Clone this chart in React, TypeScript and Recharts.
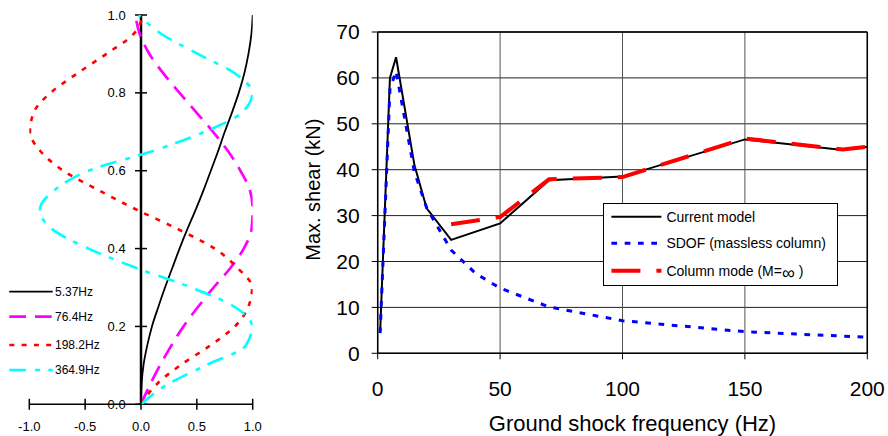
import React from 'react';
import {
  ScatterChart,
  Scatter,
  XAxis,
  YAxis,
  CartesianGrid,
  ReferenceLine,
  ReferenceDot,
  Legend,
  Label,
} from 'recharts';

const FONT = '"Liberation Sans", Arial, Helvetica, sans-serif';

// ---------- Left panel: normalised mode shapes ----------
const heights = [0, 0.05, 0.1, 0.15, 0.2, 0.25, 0.3, 0.35, 0.4, 0.45, 0.5, 0.55, 0.6, 0.65, 0.7, 0.75, 0.8, 0.85, 0.9, 0.95, 1.0];
const mode1 = [0, 0.005, 0.022, 0.055, 0.098, 0.155, 0.215, 0.28, 0.345, 0.415, 0.49, 0.56, 0.625, 0.69, 0.75, 0.815, 0.875, 0.925, 0.962, 0.988, 1.0];
const mode2 = [0, 0.08, 0.17, 0.27, 0.38, 0.51, 0.65, 0.8, 0.92, 0.99, 1.0, 0.975, 0.89, 0.78, 0.645, 0.495, 0.345, 0.2, 0.075, -0.01, -0.05];
const mode3 = [0, 0.135, 0.35, 0.615, 0.84, 0.96, 0.995, 0.865, 0.66, 0.33, -0.04, -0.38, -0.695, -0.9, -0.994, -0.96, -0.81, -0.57, -0.31, -0.07, 0.02];
const mode4 = [0, 0.23, 0.58, 0.935, 0.995, 0.84, 0.45, -0.04, -0.47, -0.795, -0.905, -0.775, -0.47, 0.1, 0.57, 0.905, 0.997, 0.84, 0.51, 0.19, -0.02];
const modeNames = ['5.37Hz', '76.4Hz', '198.2Hz', '364.9Hz'];
const modeXTicks = [-1, -0.5, 0, 0.5, 1];
const modeYTicks = [0, 0.2, 0.4, 0.6, 0.8, 1.0];

// ---------- Right panel: max shear vs frequency ----------
const currentFreq = [1, 5, 7.5, 15, 20, 30, 50, 70, 100, 150, 190, 200];
const currentShear = [4.7, 60, 64.5, 41, 31.6, 24.7, 28.3, 37.7, 38.5, 46.6, 44.3, 45];
const sdofFreq = [1, 5, 7.5, 15, 20, 30, 40, 50, 70, 100, 150, 200];
const sdofShear = [4.4, 57.5, 61.5, 39.5, 31.7, 22.5, 17.4, 14.2, 10.1, 7.1, 4.7, 3.5];
const columnFreq = [30, 50, 70, 100, 150, 190, 200];
const columnShear = [28.1, 29.7, 37.9, 38.4, 46.8, 44.4, 45];
const shearNames = ['Current model', 'SDOF (massless column)', 'Column mode (M='];
const freqTicks = [0, 50, 100, 150, 200];
const shearTicks = [0, 10, 20, 30, 40, 50, 60, 70];

// ---------- styles ----------
const modeStyles = [
  { stroke: '#000000', strokeWidth: 1.8, strokeDasharray: undefined },
  { stroke: '#FF00FF', strokeWidth: 2.7, strokeDasharray: '16.7 9' },
  { stroke: '#FF0000', strokeWidth: 2.6, strokeDasharray: '5 7.3' },
  { stroke: '#00FFFF', strokeWidth: 2.6, strokeDasharray: '16.7 9 5 8.3' },
];
const shearStyles = [
  { stroke: '#000000', strokeWidth: 2, strokeDasharray: undefined },
  { stroke: '#0000FF', strokeWidth: 3, strokeDasharray: '5.7 7.6' },
  { stroke: '#FF0000', strokeWidth: 4, strokeDasharray: '29 16' },
];

const modeData = [mode1, mode2, mode3, mode4].map((xs) => xs.map((x, i) => ({ x, y: heights[i] })));
const toPoints = (fs: number[], vs: number[]) => fs.map((f, i) => ({ x: f, y: vs[i] }));
const shearData = [
  toPoints(currentFreq, currentShear),
  toPoints(sdofFreq, sdofShear),
  toPoints(columnFreq, columnShear),
];

const Empty = () => <g />;

const LeftXTick = (props: any) => {
  const { x, y, payload } = props;
  return (
    <g>
      <line x1={x} x2={x} y1={y - 5.5} y2={y + 5.5} stroke="#000" strokeWidth={1.5} />
      <text x={x} y={y + 27} textAnchor="middle" fontSize={13} fontFamily={FONT} fill="#000">
        {Number(payload.value).toFixed(1)}
      </text>
    </g>
  );
};

const YTickMark = ({ cx, cy, value }: any) => (
  <g>
    <line x1={cx - 6} x2={cx + 6} y1={cy} y2={cy} stroke="#000" strokeWidth={1.5} />
    <text x={cx - 15.3} y={cy + 4.6} textAnchor="end" fontSize={13} fontFamily={FONT} fill="#000">
      {value.toFixed(1)}
    </text>
  </g>
);

const modeLegendRows = [11.7, 36.7, 65, 90];
const ModeLegend = () => (
  <svg width={140} height={100} style={{ display: 'block' }}>
    {modeNames.map((name, i) => {
      const cy = modeLegendRows[i];
      const s = modeStyles[i];
      return (
        <g key={name}>
          <line x1={9.3} x2={52.7} y1={cy} y2={cy} stroke={s.stroke} strokeWidth={s.strokeWidth} strokeDasharray={s.strokeDasharray} />
          <text x={55} y={cy + 4.3} fontSize={12} fontFamily={FONT} fill="#000">{name}</text>
        </g>
      );
    })}
  </svg>
);

const shearLegendRows = [13.7, 40.3, 67.7];
const ShearLegend = () => (
  <svg width={236} height={84} style={{ display: 'block' }}>
    <rect x={0.5} y={0.5} width={234} height={82} fill="#fff" stroke="#000" strokeWidth={1} />
    {shearNames.map((name, i) => {
      const cy = shearLegendRows[i];
      const s = shearStyles[i];
      return (
        <g key={name}>
          <line x1={8.4} x2={58.4} y1={cy} y2={cy} stroke={s.stroke} strokeWidth={s.strokeWidth} strokeDasharray={s.strokeDasharray} />
          <text x={63.4} y={cy + 5} fontSize={14} fontFamily={FONT} fill="#000">
            {name}
            {i === 2 ? (
              <>
                <tspan fontSize={18} dy={3}>∞</tspan>
                <tspan dy={-3}>{'  )'}</tspan>
              </>
            ) : null}
          </text>
        </g>
      );
    })}
  </svg>
);

const XTitle = (props: any) => {
  const vb = props.viewBox || { x: 0, y: 0, width: 0, height: 0 };
  return (
    <text x={vb.x + vb.width / 2 + 10} y={vb.y + 77.5} textAnchor="middle" fontSize={22} fontFamily={FONT} fill="#000">
      Ground shock frequency (Hz)
    </text>
  );
};

const YTitle = (props: any) => {
  const vb = props.viewBox || { x: 0, y: 0, width: 0, height: 0 };
  const x = vb.x + 30;
  const y = vb.y + vb.height / 2 - 3;
  return (
    <text x={x} y={y} transform={`rotate(-90, ${x}, ${y})`} textAnchor="middle" fontSize={20} fontFamily={FONT} fill="#000">
      Max. shear (kN)
    </text>
  );
};

const hGrid = (p: any) => <line key={p.key} x1={p.x1} y1={p.y1} x2={p.x2} y2={p.y2} stroke="#222" strokeWidth={1} />;
const vGrid = (p: any) => <line key={p.key} x1={p.x1} y1={p.y1} x2={p.x2} y2={p.y2} stroke="#555" strokeWidth={1} />;

export default function App() {
  return (
    <div style={{ position: 'absolute', left: 0, top: 0, width: 888, height: 436, background: '#fff', fontFamily: FONT }}>
      <div style={{ position: 'absolute', left: 0, top: 0 }}>
        <ScatterChart width={280} height={436} margin={{ top: 15, right: 27.3, bottom: 1.7, left: 29.3 }}>
          <XAxis
            type="number"
            dataKey="x"
            domain={[-1, 1]}
            ticks={modeXTicks}
            interval={0}
            allowDataOverflow
            height={30}
            axisLine={{ stroke: '#000', strokeWidth: 1.5 }}
            tickLine={false}
            tickSize={0}
            tickMargin={0}
            tick={<LeftXTick />}
          />
          <YAxis type="number" dataKey="y" domain={[0, 1]} allowDataOverflow hide />
          <ReferenceLine x={0} stroke="#000" strokeWidth={2.5} />
          {modeYTicks.map((v) => (
            <ReferenceDot key={v} x={0} y={v} r={0} shape={(p: any) => <YTickMark cx={p.cx} cy={p.cy} value={v} />} />
          ))}
          {modeData.map((d, i) => (
            <Scatter
              key={modeNames[i]}
              name={modeNames[i]}
              data={d}
              line={{ stroke: modeStyles[i].stroke, strokeWidth: modeStyles[i].strokeWidth, strokeDasharray: modeStyles[i].strokeDasharray, fill: 'none' }}
              lineJointType="monotoneY"
              shape={Empty}
              isAnimationActive={false}
            />
          ))}
          <Legend
            content={<ModeLegend />}
            layout="vertical"
            align="center"
            verticalAlign="middle"
            wrapperStyle={{ left: 0, top: 280, width: 140, height: 100 }}
          />
        </ScatterChart>
      </div>
      <div style={{ position: 'absolute', left: 290, top: 0 }}>
        <ScatterChart width={598} height={436} margin={{ top: 32, right: 20.7, bottom: 0, left: 0 }}>
          <CartesianGrid horizontal={hGrid} vertical={vGrid} />
          <XAxis
            type="number"
            dataKey="x"
            domain={[0, 200]}
            ticks={freqTicks}
            interval={0}
            allowDataOverflow
            height={82.7}
            stroke="#000"
            axisLine={{ stroke: '#000', strokeWidth: 1.5 }}
            tickLine={{ stroke: '#000' }}
            tickSize={6}
            tickMargin={22}
            tick={{ fontSize: 21, fill: '#000', fontFamily: FONT }}
          >
            <Label content={(p: any) => <XTitle {...p} />} />
          </XAxis>
          <YAxis
            type="number"
            dataKey="y"
            domain={[0, 70]}
            ticks={shearTicks}
            interval={0}
            allowDataOverflow
            width={87.7}
            stroke="#000"
            axisLine={{ stroke: '#000', strokeWidth: 1.5 }}
            tickLine={{ stroke: '#000' }}
            tickSize={6}
            tickMargin={12}
            tick={{ fontSize: 21, fill: '#000', fontFamily: FONT }}
          >
            <Label content={(p: any) => <YTitle {...p} />} />
          </YAxis>
          <ReferenceLine y={70} stroke="#000" strokeWidth={1.5} />
          <ReferenceLine x={200} stroke="#000" strokeWidth={1.5} />
          {shearData.map((d, i) => (
            <Scatter
              key={shearNames[i]}
              name={shearNames[i]}
              data={d}
              line={{ stroke: shearStyles[i].stroke, strokeWidth: shearStyles[i].strokeWidth, strokeDasharray: shearStyles[i].strokeDasharray, fill: 'none' }}
              lineJointType="linear"
              shape={Empty}
              isAnimationActive={false}
            />
          ))}
          <Legend
            content={<ShearLegend />}
            layout="vertical"
            align="center"
            verticalAlign="middle"
            wrapperStyle={{ left: 313.3, top: 203, width: 236, height: 84 }}
          />
        </ScatterChart>
      </div>
    </div>
  );
}
